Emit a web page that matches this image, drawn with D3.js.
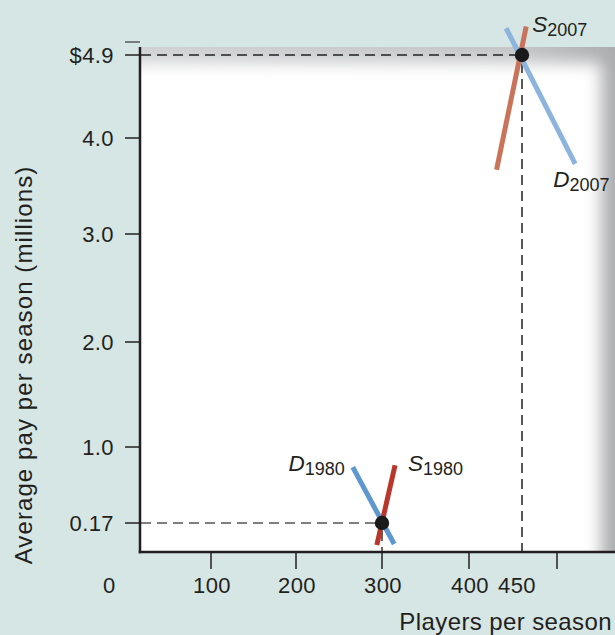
<!DOCTYPE html>
<html>
<head>
<meta charset="utf-8">
<script src="https://cdn.jsdelivr.net/npm/d3@7/dist/d3.min.js"></script>
<style>
  html, body { margin: 0; padding: 0; background: #d5e6e4; }
  svg { display: block; }
  text { font-family: "Liberation Sans", Arial, Helvetica, sans-serif; fill: #231f20; }
</style>
</head>
<body>
<script>
// Baseball players market: 1980 vs 2007 supply & demand
const yearLabels = ["1980", "2007"];
const eqPlayers = [300, 450];          // players per season at equilibrium
const eqPay = [0.17, 4.9];             // average pay (millions) at equilibrium

// Curve end points: [players, pay]
const demand1980 = [[266, 0.78], [314, -0.06]];
const supply1980 = [[315, 0.80], [294, -0.07]];
const demand2007 = [[435, 5.19], [526, 3.73]];
const supply2007 = [[456, 5.21], [426, 3.67]];

const yTickValues = [0.17, 1.0, 2.0, 3.0, 4.0, 4.9];
const yTickLabels = ["0.17", "1.0", "2.0", "3.0", "4.0", "$4.9"];
const xTickValues = [100, 200, 300, 400, 500];
const xTickLabels = ["100", "200", "300", "400", ""];
const xExtraValues = [450];
const xExtraLabels = ["450"];
const originLabel = "0";
const xTitle = "Players per season";
const yTitle = "Average pay per season (millions)";

const W = 615, H = 635;
const axisX = 140, axisY = 552, axisTop = 47;

// Schematic axes: unevenly spaced breakpoints
const x = d3.scaleLinear()
  .domain([100, 200, 300, 400, 450, 500])
  .range([211, 296, 382, 469, 522, 557]);
const y = d3.scaleLinear()
  .domain([0.17, 1, 2, 3, 4, 4.9])
  .range([523, 447, 342, 234, 138, 55]);

const svg = d3.select("body").append("svg")
  .attr("width", W).attr("height", H);

const defs = svg.append("defs");
defs.append("clipPath").attr("id", "panelClip")
  .append("rect").attr("x", axisX).attr("y", axisTop)
  .attr("width", W - axisX).attr("height", axisY - axisTop);
const blur = defs.append("filter").attr("id", "soft")
  .attr("filterUnits", "userSpaceOnUse")
  .attr("x", 0).attr("y", 0).attr("width", W).attr("height", H);
blur.append("feGaussianBlur").attr("stdDeviation", 8);
const grad = defs.append("linearGradient").attr("id", "panelGrad")
  .attr("x1", 0).attr("x2", 1).attr("y1", 0).attr("y2", 0);
grad.append("stop").attr("offset", "0").attr("stop-color", "#d0d1d3");
grad.append("stop").attr("offset", "0.8").attr("stop-color", "#c4c5c7");
grad.append("stop").attr("offset", "1").attr("stop-color", "#acadaf");

// Background
svg.append("rect").attr("width", W).attr("height", H).attr("fill", "#d5e6e4");

// Plot panel with soft grey vignette on top and right
const panel = svg.append("g").attr("clip-path", "url(#panelClip)");
panel.append("rect").attr("x", axisX).attr("y", axisTop)
  .attr("width", W - axisX).attr("height", axisY - axisTop)
  .attr("fill", "url(#panelGrad)");
panel.append("rect").attr("x", 90).attr("y", 63)
  .attr("width", 511).attr("height", 540)
  .attr("rx", 6)
  .attr("fill", "#ffffff").attr("filter", "url(#soft)");

// Dashed guide lines to the axes
const guides = svg.append("g").attr("fill", "none")
  .attr("stroke-width", 1.5).attr("stroke-dasharray", "10,6");
eqPlayers.forEach((p, i) => {
  guides.append("line")
    .attr("x1", axisX + 1).attr("x2", x(p))
    .attr("y1", y(eqPay[i])).attr("y2", y(eqPay[i]))
    .attr("stroke", i === 0 ? "#555" : "#222");
  guides.append("line")
    .attr("x1", x(p)).attr("x2", x(p))
    .attr("y1", y(eqPay[i]) + 8).attr("y2", axisY)
    .attr("stroke", i === 0 ? "#333" : "#222")
    .attr("stroke-dasharray", i === 0 ? null : "10,6");
});

// Axes
const axes = svg.append("g").attr("stroke", "#231f20");
axes.append("line").attr("x1", axisX).attr("x2", axisX)
  .attr("y1", axisTop).attr("y2", axisY + 1.25).attr("stroke-width", 2.5);
axes.append("line").attr("x1", axisX - 1.25).attr("x2", W)
  .attr("y1", axisY).attr("y2", axisY).attr("stroke-width", 2.5);
axes.append("line").attr("x1", 125).attr("x2", axisX)
  .attr("y1", 42).attr("y2", 42).attr("stroke-width", 1.3).attr("stroke", "#444");

// Y ticks and labels
yTickValues.forEach((v, i) => {
  axes.append("line").attr("x1", 125).attr("x2", axisX)
    .attr("y1", y(v)).attr("y2", y(v)).attr("stroke-width", 1.5);
  svg.append("text").attr("x", 114).attr("y", y(v))
    .attr("dy", "0.36em").attr("text-anchor", "end")
    .attr("font-size", 22).attr("letter-spacing", 0.4)
    .text(yTickLabels[i]);
});

// X ticks and labels
xTickValues.forEach((v, i) => {
  axes.append("line").attr("x1", x(v)).attr("x2", x(v))
    .attr("y1", axisY).attr("y2", 569).attr("stroke-width", 1.5);
  if (xTickLabels[i]) {
    svg.append("text").attr("x", x(v) + 1).attr("y", 593)
      .attr("text-anchor", "middle").attr("font-size", 22)
      .attr("letter-spacing", 0.4).text(xTickLabels[i]);
  }
});
xExtraValues.forEach((v, i) => {
  svg.append("text").attr("x", x(v) - 5).attr("y", 593)
    .attr("text-anchor", "middle").attr("font-size", 22)
    .attr("letter-spacing", 0.4).text(xExtraLabels[i]);
});
svg.append("text").attr("x", 109).attr("y", 593)
  .attr("text-anchor", "middle").attr("font-size", 22).text(originLabel);

// Axis titles
svg.append("text").attr("x", 612).attr("y", 630)
  .attr("text-anchor", "end").attr("font-size", 24)
  .attr("letter-spacing", 0.4).text(xTitle);
svg.append("text")
  .attr("transform", "translate(32,365) rotate(-90)")
  .attr("text-anchor", "middle").attr("font-size", 24)
  .attr("letter-spacing", 1.1).text(yTitle);

// Supply and demand curves
const curves = [
  { pts: demand1980, color: "#5f97cf" },
  { pts: supply1980, color: "#b8372a" },
  { pts: supply2007, color: "#c9735a" },
  { pts: demand2007, color: "#8db4dc" }
];
const line = d3.line().x(d => x(d[0])).y(d => y(d[1]));
curves.forEach(c => {
  svg.append("path").attr("d", line(c.pts))
    .attr("fill", "none").attr("stroke", c.color).attr("stroke-width", 5);
});

// Equilibrium points
eqPlayers.forEach((p, i) => {
  svg.append("circle").attr("cx", x(p)).attr("cy", y(eqPay[i]))
    .attr("r", 7.2).attr("fill", "#1a1a1a");
});

// Curve labels: italic letter with year subscript
function curveLabel(letter, year, px, py, anchor) {
  const t = svg.append("text").attr("x", px).attr("y", py)
    .attr("text-anchor", anchor);
  t.append("tspan").attr("font-size", 22.5).attr("font-style", "italic").text(letter);
  t.append("tspan").attr("font-size", 18).attr("dy", 4).text(year);
}
curveLabel("D", yearLabels[0], x(demand1980[0][0]) - 8, y(demand1980[0][1]) + 4, "end");
curveLabel("S", yearLabels[0], x(supply1980[0][0]) + 13, y(supply1980[0][1]) + 6, "start");
curveLabel("S", yearLabels[1], x(supply2007[0][0]) + 6, y(supply2007[0][1]) + 6, "start");
curveLabel("D", yearLabels[1], x(demand2007[1][0]) - 22, y(demand2007[1][1]) + 23, "start");
</script>
</body>
</html>
